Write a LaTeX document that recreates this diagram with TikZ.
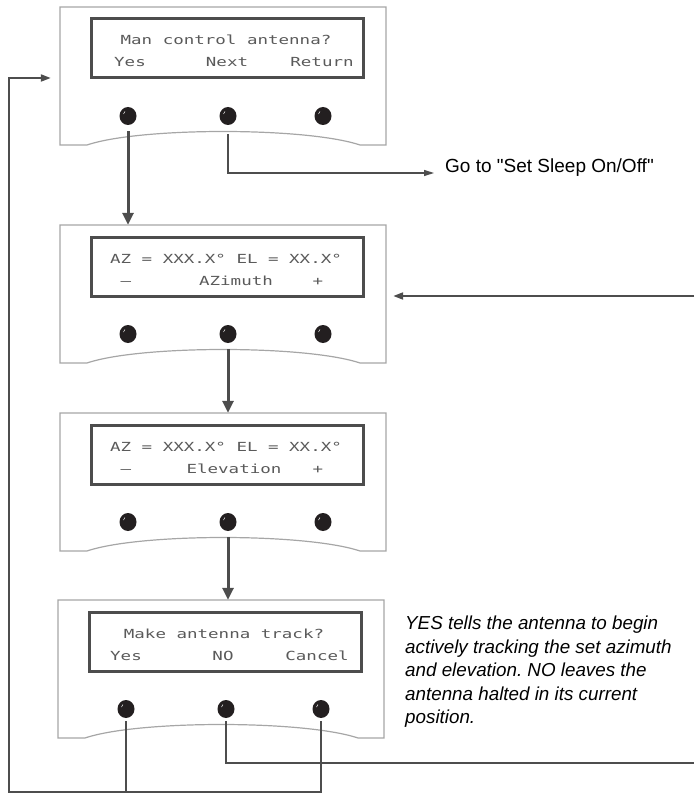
\documentclass[tikz,border=0pt]{standalone}
\usepackage{fontspec}
\setmainfont{Liberation Sans}
\newfontfamily\plainsans{Liberation Sans}
\newfontfamily\lcdfont[FakeStretch=1.4]{DejaVu Sans Mono}
\usetikzlibrary{shapes.geometric,arrows.meta}
\definecolor{linegray}{HTML}{4D4D4D}
\definecolor{panelgray}{HTML}{A6A6A6}
\definecolor{lcdtext}{HTML}{5A5A5A}
\definecolor{btnblack}{HTML}{231F20}
\tikzset{
  panelline/.style={draw=panelgray, line width=1.2},
  panelbox/.style={minimum width=326, minimum height=138, inner sep=0},
  lcdbox/.style={draw=linegray, line width=3, fill=white},
  lcdtxt/.style={font=\lcdfont\fontsize{12.5}{14}\selectfont, text=lcdtext, inner sep=0},
  btn/.style={ellipse, fill=btnblack, minimum width=17, minimum height=18, inner sep=0,
    path picture={\draw[white, line width=0.5]
      ([xshift=-4.5pt,yshift=2pt]path picture bounding box.center) --
      ([xshift=-3pt,yshift=4.5pt]path picture bounding box.center);}},
  flowthick/.style={draw=linegray, line width=3, -{Triangle[length=12,width=11]}},
  flowthin/.style={draw=linegray, line width=2, line join=miter},
  flowarrow/.style={flowthin, -{Triangle[length=10,width=7]}},
  nextline/.style={draw=linegray, line width=1.5, -{Triangle[length=10,width=6]}},
  note/.style={font=\fontsize{18.8}{23.5}\selectfont, inner sep=0},
}
\newcommand\lcdpanel[4]{%
  \begin{scope}[shift={(#2,#3)}]
    \draw[panelline] (60,0) -- (386,0) -- (386,138) -- (360,138)
      .. controls (306,120) and (140,120) .. (87,138) -- (60,138) -- cycle;
    \node[panelbox] (#1) at (223,69) {};
    \draw[lcdbox] (91,12) rectangle (363,71);
    \node[lcdtxt, anchor=base] (#1t) at (226,38) {#4};
    \node[btn] (#1a) at (128,109) {};
    \node[btn] (#1b) at (228,109) {};
    \node[btn] (#1c) at (323,109) {};
  \end{scope}}
\begin{document}
\frenchspacing
\begin{tikzpicture}[x=1pt,y=-1pt]
  \useasboundingbox (0,0) rectangle (694,794);
  % panels
  \lcdpanel{p1}{0}{7}{Man control antenna?}
  \node[lcdtxt, anchor=base] (p1lyes) at (130,67) {Yes};
  \node[lcdtxt, anchor=base] (p1lnext) at (227,67) {Next};
  \node[lcdtxt, anchor=base] (p1lret) at (322,67) {Return};

  \lcdpanel{p2}{0}{225}{AZ = XXX.X° EL = XX.X°}
  \node[lcdtxt, anchor=base] (p2lminus) at (126,285) {–};
  \node[lcdtxt, anchor=base] (p2laz) at (236,285) {AZimuth};
  \node[lcdtxt, anchor=base] (p2lplus) at (318,285) {+};

  \lcdpanel{p3}{0}{413}{AZ = XXX.X° EL = XX.X°}
  \node[lcdtxt, anchor=base] (p3lminus) at (126,473) {–};
  \node[lcdtxt, anchor=base] (p3lel) at (234,473) {Elevation};
  \node[lcdtxt, anchor=base] (p3lplus) at (318,473) {+};

  \lcdpanel{p4}{-2}{600}{Make antenna track?}
  \node[lcdtxt, anchor=base] (p4lyes) at (126,660) {Yes};
  \node[lcdtxt, anchor=base] (p4lno) at (223,660) {NO};
  \node[lcdtxt, anchor=base] (p4lcan) at (317,660) {Cancel};

  % texts
  \node[font=\plainsans\fontsize{19}{22}\selectfont, inner sep=0, anchor=base west] (goto) at (445,173)
    {Go to "Set Sleep On/Off"};
  \node[note, anchor=north west, align=left] (note) at (405,616)
    {\itshape YES tells the antenna to begin\\
     \itshape actively tracking the set azimuth\\
     \itshape and elevation. NO leaves the\\
     \itshape antenna halted in its current\\
     \itshape position.};

  % flow arrows
  \draw[flowthick] ([yshift=-6pt]p1a.south) -- (p1a.south |- p2.north);
  \draw[flowthick] ([yshift=-6pt]p2b.south) -- (p2b.south |- p3.north);
  \draw[flowthick] ([yshift=-6pt]p3b.south) -- (p3b.south |- p4.north);

  \draw[nextline] ([yshift=-9pt]p1b.south) |- ([xshift=-11pt]goto.base west);

  \coordinate (rin) at (694,296);
  \draw[flowarrow] (rin) -- ([xshift=7pt]rin -| p2.east);

  \coordinate (loopbl) at (9,792);
  \coordinate (looptl) at (9,78);
  \draw[flowthin] ([yshift=-3pt]p4a.south) -- (p4a.south |- loopbl);
  \draw[flowarrow] ([yshift=-3pt]p4c.south) -- (p4c.south |- loopbl) -- (loopbl) -- (looptl)
    -- ([xshift=-9pt]looptl -| p1.west);

  \coordinate (noend) at (694,763);
  \draw[flowthin] ([yshift=-3pt]p4b.south) |- (noend);
\end{tikzpicture}
\end{document}
